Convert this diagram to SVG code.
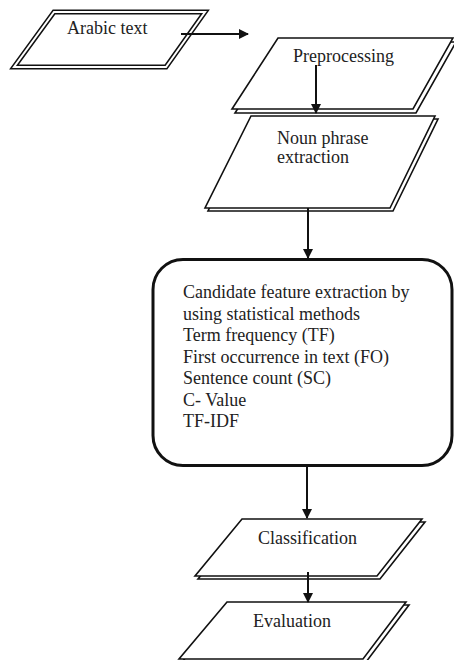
<svg xmlns="http://www.w3.org/2000/svg" width="454" height="660" viewBox="0 0 454 660">
<defs>
<marker id="ah" markerWidth="10" markerHeight="10" refX="9" refY="5" orient="auto" markerUnits="userSpaceOnUse" viewBox="0 0 10 10">
<path d="M0,0 L10,5 L0,10 Z" fill="#111"/>
</marker>
<style>
.t{font-family:"Liberation Serif","Times New Roman",serif;font-size:18px;fill:#222}
.sh{fill:#fff;stroke:#111;stroke-width:1.6;stroke-linejoin:miter}
.outer{fill:#fff;stroke:#111;stroke-width:5;stroke-linejoin:miter}
.inner{fill:none;stroke:#fff;stroke-width:2;stroke-linejoin:miter}
.c{stroke:#111;stroke-width:2;fill:none}
</style>
</defs>
<rect width="454" height="660" fill="#fff"/>
<g id="arabic-text">
<polygon class="outer" points="54,12 205,12 166,67 14,67"/>
<polygon class="inner" points="54,12 205,12 166,67 14,67"/>
<text class="t" x="67" y="34">Arabic text</text>
</g>
<g id="preprocessing">
<polygon class="sh" points="281,42 456,42 416,113 235,113"/>
<polygon class="sh" points="278,38 453,38 413,109 232,109"/>
<text class="t" x="293" y="62">Preprocessing</text>
</g>
<g id="noun-phrase">
<polygon class="sh" points="254,119 438,119 393,211 208,211"/>
<polygon class="sh" points="251,116 435,116 390,208 205,208"/>
<text class="t" x="277" y="144">Noun phrase</text>
<text class="t" x="277" y="163">extraction</text>
</g>
<g id="candidate">
<rect x="153" y="259.5" width="299" height="206" rx="30" ry="30" fill="#fff" stroke="#111" stroke-width="3"/>
<text class="t" x="183" y="298">Candidate feature extraction by</text>
<text class="t" x="183" y="319.5">using statistical methods</text>
<text class="t" x="183" y="341">Term frequency (TF)</text>
<text class="t" x="183" y="362.5">First occurrence in text (FO)</text>
<text class="t" x="183" y="384">Sentence count (SC)</text>
<text class="t" x="183" y="405.5">C- Value</text>
<text class="t" x="183" y="427">TF-IDF</text>
</g>
<g id="classification">
<polygon class="sh" points="245,522 425,522 380,579 198,579"/>
<polygon class="sh" points="242,519 422,519 377,576 195,576"/>
<text class="t" x="258" y="544">Classification</text>
</g>
<g id="evaluation">
<polygon class="sh" points="230,605 409,605 366,662 182,662"/>
<polygon class="sh" points="227,602 406,602 363,659 179,659"/>
<text class="t" x="253" y="627">Evaluation</text>
</g>
<g id="connectors">
<line class="c" x1="181" y1="34" x2="248" y2="34" marker-end="url(#ah)"/>
<line class="c" x1="316" y1="65" x2="316" y2="113" marker-end="url(#ah)"/>
<line class="c" x1="308" y1="208" x2="308" y2="258" marker-end="url(#ah)"/>
<line class="c" x1="307" y1="466" x2="307" y2="518" marker-end="url(#ah)"/>
<line class="c" x1="308" y1="572" x2="308" y2="602" marker-end="url(#ah)"/>
</g>
</svg>
